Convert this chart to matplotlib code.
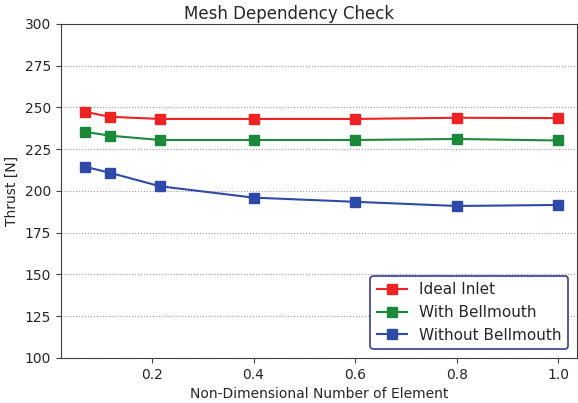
import matplotlib
matplotlib.use("Agg")
import matplotlib.pyplot as plt

x = [0.068, 0.117, 0.216, 0.4, 0.6, 0.8, 1.0]
ideal_inlet = [247.4, 244.4, 243.1, 243.1, 243.1, 243.8, 243.6]
with_bellmouth = [235.4, 233.1, 230.5, 230.5, 230.5, 231.1, 230.2]
without_bellmouth = [214.5, 210.9, 202.8, 196.0, 193.5, 191.0, 191.6]

plt.rcParams["text.color"] = "#262626"
plt.rcParams["axes.labelcolor"] = "#262626"
plt.rcParams["xtick.color"] = "#404040"
plt.rcParams["ytick.color"] = "#404040"
plt.rcParams["xtick.labelcolor"] = "#262626"
plt.rcParams["ytick.labelcolor"] = "#262626"
plt.rcParams["axes.edgecolor"] = "#404040"

fig = plt.figure(figsize=(5.78, 4.03), dpi=100)
ax = fig.add_axes([0.1055, 0.1117, 0.893, 0.829])

ax.plot(x, ideal_inlet, marker="s", color="#ee2222", markersize=7, linewidth=1.5, label="Ideal Inlet")
ax.plot(x, with_bellmouth, marker="s", color="#1a8a3a", markersize=7, linewidth=1.5, label="With Bellmouth")
ax.plot(x, without_bellmouth, marker="s", color="#2e4aa8", markersize=7, linewidth=1.5, label="Without Bellmouth")

ax.set_xlim(0.021, 1.037)
ax.set_ylim(100, 300)
ax.set_yticks(range(100, 301, 25))
ax.set_xticks([0.2, 0.4, 0.6, 0.8, 1.0])
ax.grid(axis="y", color="#999999", linestyle=":", linewidth=0.8)
ax.set_axisbelow(True)

fig.text(0.5, 0.965, "Mesh Dependency Check", fontsize=12, ha="center", va="center")
ax.set_xlabel("Non-Dimensional Number of Element", fontsize=10)
ax.set_ylabel("Thrust [N]", fontsize=10)

leg = ax.legend(loc="lower right", fontsize=11, fancybox=True, framealpha=1,
                borderaxespad=0.6)
leg.get_frame().set_edgecolor("#3a3a9a")
leg.get_frame().set_linewidth(1.2)

fig.savefig("out.png", dpi=100)
